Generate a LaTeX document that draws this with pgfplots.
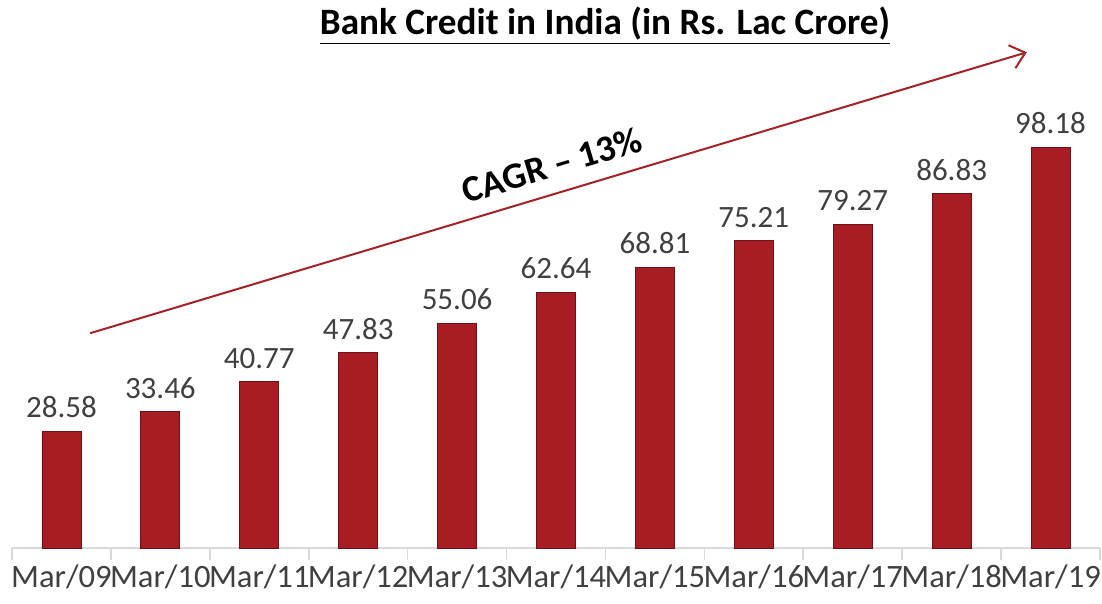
\documentclass[border=0pt]{standalone}
\usepackage{pgfplots}
\pgfplotsset{compat=1.18}
\usetikzlibrary{arrows.meta}
\usepackage{fontspec}
\setmainfont{Carlito}
\definecolor{barred}{HTML}{A81D24}
\definecolor{bardark}{HTML}{6E1015}
\definecolor{arrowred}{HTML}{A52225}
\definecolor{lbl}{HTML}{404040}
\definecolor{axgray}{HTML}{D9D9D9}
\begin{document}
\begin{tikzpicture}
\path[use as bounding box] (0,0) rectangle (551pt,302pt);
\begin{axis}[
  at={(6pt,28pt)}, anchor=south west,
  scale only axis, width=544pt, height=245pt,
  ymin=0, ymax=120, xmin=-0.5, xmax=10.5,
  axis y line=none, axis x line*=bottom,
  axis line style={axgray, line width=0.8pt, -},
  xtick={0,...,10},
  xticklabels={Mar/09,Mar/10,Mar/11,Mar/12,Mar/13,Mar/14,Mar/15,Mar/16,Mar/17,Mar/18,Mar/19},
  major tick length=0pt,
  minor xtick={-0.5,0.5,...,10.5},
  minor tick length=6pt,
  tick align=outside,
  minor tick style={axgray, line width=0.8pt},
  xticklabel style={font=\fontsize{16.3}{19}\selectfont, text=lbl, yshift=-5pt},
  clip=false,
  ybar, bar width=19.5pt,
  nodes near coords,
  nodes near coords style={font=\fontsize{15.5}{18}\selectfont, text=lbl, yshift=3pt, /pgf/number format/.cd, fixed, fixed zerofill, precision=2, assume math mode=true},
]
\addplot[draw=bardark, line width=0.4pt, fill=barred] coordinates {
(0,28.58) (1,33.46) (2,40.77) (3,47.83) (4,55.06) (5,62.64) (6,68.81) (7,75.21) (8,79.27) (9,86.83) (10,98.18)};
\draw[arrowred, line width=1pt, -{Straight Barb[length=7pt,width=12pt]}] (axis cs:0.29,52.6) -- (axis cs:9.76,121.4);
\node[rotate=16.7, font=\bfseries\fontsize{18.5}{22}\selectfont] at (axis cs:4.96,93.8) {CAGR -- 13\%};
\end{axis}
\node[anchor=base, font=\bfseries\fontsize{18.6}{22}\selectfont] at (302.5pt,284.5pt) {\underline{Bank Credit in India (in Rs. Lac Crore)}};
\end{tikzpicture}
\end{document}
